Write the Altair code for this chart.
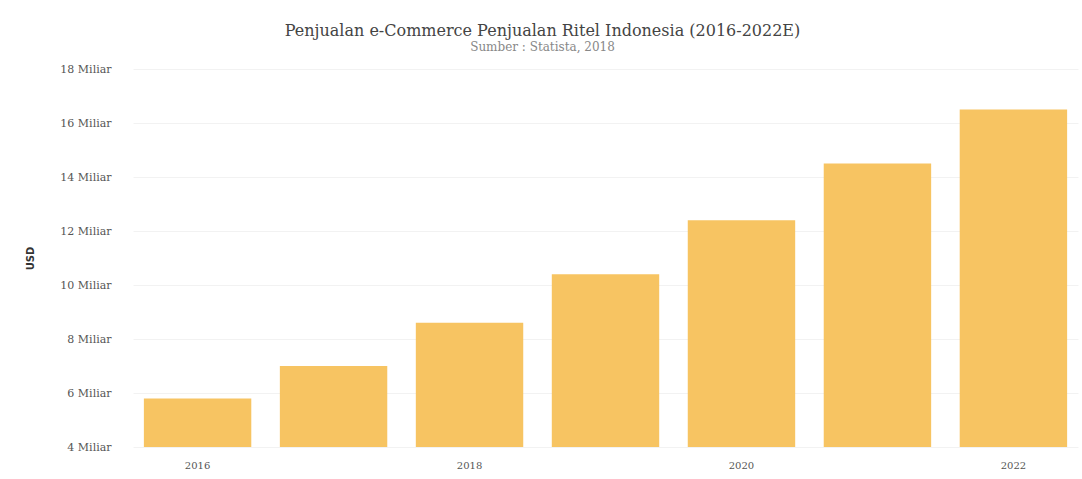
import altair as alt
import pandas as pd

years = [2016, 2017, 2018, 2019, 2020, 2021, 2022]
sales = [5.8, 7.0, 8.6, 10.4, 12.4, 14.5, 16.5]
tick_values = [4, 6, 8, 10, 12, 14, 16, 18]
x_label_years = [2016, 2018, 2020, 2022]

df = pd.DataFrame({"Tahun": years, "Penjualan": sales})

chart = alt.Chart(df).mark_bar(color="#F7C462", clip=True).encode(
    x=alt.X("Tahun:O", title=None,
            scale=alt.Scale(paddingInner=0.21, paddingOuter=0.08),
            axis=alt.Axis(values=x_label_years, labelAngle=0, domain=False, ticks=False,
                          grid=False, labelColor="#555555", labelFontSize=10,
                          labelPadding=13, labelFont="DejaVu Serif")),
    y=alt.Y("Penjualan:Q", title="USD",
            scale=alt.Scale(domain=[4, 18], nice=False, zero=False),
            axis=alt.Axis(values=tick_values, labelExpr="datum.value + ' Miliar'",
                          domain=False, ticks=False, gridColor="#f2f2f2",
                          labelColor="#555555", labelFontSize=11, labelPadding=22,
                          labelFont="DejaVu Serif", titleFont="DejaVu Sans",
                          titleFontSize=10, titleColor="#333333", titlePadding=24)),
).properties(
    width=945, height=378,
    title=alt.TitleParams(
        text="Penjualan e-Commerce Penjualan Ritel Indonesia (2016-2022E)",
        subtitle="Sumber : Statista, 2018",
        font="DejaVu Serif", fontSize=16, fontWeight="normal", color="#444444",
        subtitleFont="DejaVu Serif", subtitleFontSize=12, subtitleColor="#888888",
        subtitlePadding=3, anchor="middle", dx=-63, offset=10),
    autosize=alt.AutoSizeParams(type="none"),
    padding={"left": 133, "top": 69, "right": 4, "bottom": 32},
).configure(background="white").configure_view(strokeWidth=0, stroke="transparent")

chart.save("out.html", embed_options={"renderer": "svg", "actions": False})
